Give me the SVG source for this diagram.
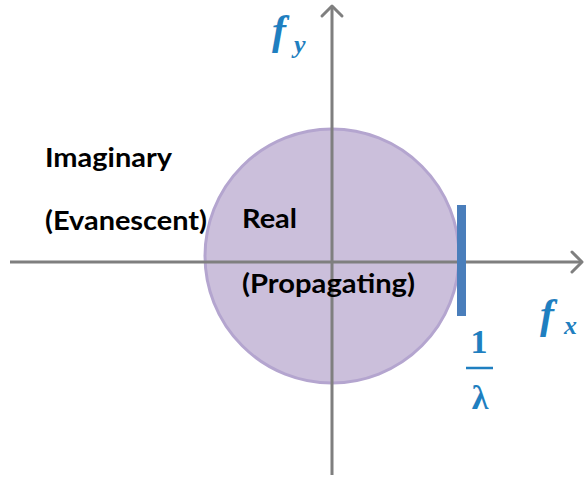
<svg xmlns="http://www.w3.org/2000/svg" width="585" height="479" viewBox="0 0 585 479">
<style>
.lbl{font-family:Lato,"Open Sans",sans-serif;font-weight:bold;font-size:26px;fill:#000}
.math{font-family:"Liberation Serif",serif;font-weight:bold;font-style:italic;fill:#1f7fc0}
.ax{stroke:#7f7f7f;stroke-width:3;fill:none}
</style>
<rect width="585" height="479" fill="#fff"/>
<g id="circle">
<circle cx="332" cy="256" r="127" fill="#cbbfdb" stroke="#b4a5cf" stroke-width="3"/>
</g>
<g id="axes">
<line class="ax" x1="10" y1="262" x2="582" y2="262"/>
<polyline class="ax" points="572,252 582,262 572,272" stroke-linecap="round" stroke-linejoin="round"/>
<line class="ax" x1="332" y1="475" x2="332" y2="6"/>
<polyline class="ax" points="322,16 332,6 342,16" stroke-linecap="round" stroke-linejoin="round"/>
</g>
<g id="bar">
<rect x="457" y="205" width="9" height="111" fill="#4a7ebb"/>
</g>
<g id="labels">
<text class="lbl" x="45" y="167" textLength="127" lengthAdjust="spacingAndGlyphs">Imaginary</text>
<text class="lbl" x="45" y="230" textLength="162" lengthAdjust="spacingAndGlyphs">(Evanescent)</text>
<text class="lbl" x="242" y="228" textLength="55" lengthAdjust="spacingAndGlyphs">Real</text>
<text class="lbl" x="242" y="293" textLength="173" lengthAdjust="spacingAndGlyphs">(Propagating)</text>
</g>
<g id="fy">
<text class="math" x="272" y="44" font-size="42">f</text>
<text class="math" x="294" y="53" font-size="26">y</text>
</g>
<g id="fx">
<text class="math" x="540" y="328" font-size="42">f</text>
<text class="math" x="564" y="334" font-size="26">x</text>
</g>
<g id="lambda">
<text x="479" y="353" font-family="Liberation Serif,serif" font-weight="bold" font-size="34" fill="#1f7fc0" text-anchor="middle">1</text>
<line x1="466" y1="368" x2="493" y2="368" stroke="#1f7fc0" stroke-width="2.5"/>
<text x="480" y="409" font-family="Liberation Serif,serif" font-weight="bold" font-size="34" fill="#1f7fc0" text-anchor="middle">λ</text>
</g>
</svg>
